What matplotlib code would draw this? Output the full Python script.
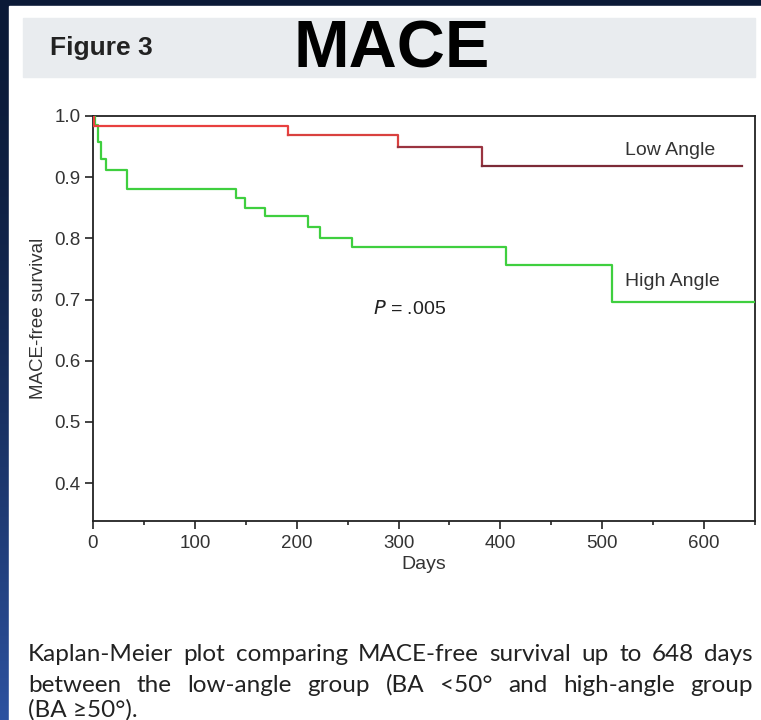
import numpy as np
import matplotlib
matplotlib.use("Agg")
import matplotlib.pyplot as plt
from matplotlib.patches import Rectangle
from matplotlib.ticker import MultipleLocator

# =========================
# DATA
# =========================
low_days = [0, 1, 191, 299, 382, 637]
low_surv = [1.0, 0.984, 0.969, 0.949, 0.918, 0.918]
low_colors = ["#e8403f", "#e8403f", "#d9413f", "#9a3440", "#7c2b37"]

high_days = [0, 2, 5, 8, 13, 33, 140, 149, 169, 211, 223, 254, 406, 510, 650]
high_surv = [1.0, 0.985, 0.957, 0.930, 0.911, 0.881, 0.866, 0.849, 0.837,
             0.818, 0.801, 0.786, 0.757, 0.696, 0.696]

x_ticks = [0, 100, 200, 300, 400, 500, 600]
y_ticks = [0.4, 0.5, 0.6, 0.7, 0.8, 0.9, 1.0]

caption_lines = [
    "Kaplan-Meier plot comparing MACE-free survival up to 648 days",
    "between the low-angle group (BA <50\u00b0 and high-angle group",
    "(BA \u226550\u00b0).",
]

W, H = 761, 720
plt.rcParams["font.family"] = ["Liberation Sans", "DejaVu Sans"]

fig = plt.figure(figsize=(W / 100, H / 100), dpi=100)

# =========================
# BACKGROUND FRAME
# =========================
bg = fig.add_axes([0, 0, 1, 1], zorder=-10)
top_c = np.array([11, 26, 55]) / 255
bot_c = np.array([45, 82, 160]) / 255
t = np.linspace(0, 1, 256) ** 1.6
grad = top_c[None, :] * (1 - t[:, None]) + bot_c[None, :] * t[:, None]
bg.imshow(grad[:, None, :], extent=[0, 1, 0, 1], aspect="auto", origin="upper")
bg.add_patch(Rectangle((9 / W, 0), 1, (H - 6) / H, color="white", zorder=2))
bg.add_patch(Rectangle((23 / W, 1 - 77 / H), (755 - 23) / W, (77 - 18) / H,
                       color="#e9ecef", zorder=3))
bg.set_xlim(0, 1)
bg.set_ylim(0, 1)
bg.axis("off")

fig.text(50 / W, 1 - 48 / H, "Figure 3", fontsize=19, fontweight="bold",
         color="#222222", va="center", ha="left")
fig.text(392 / W, 1 - 50 / H, "MACE", fontsize=48, fontweight="bold",
         color="black", va="center", ha="center")

# =========================
# KAPLAN-MEIER PLOT
# =========================
ax = fig.add_axes([93 / W, 199 / H, (755 - 93) / W, (604 - 199) / H])

ax.step(high_days, high_surv, where="post", color="#3fcf3f", lw=1.6, zorder=3)
for i in range(len(low_surv) - 1):
    ax.plot([low_days[i], low_days[i + 1], low_days[i + 1]],
            [low_surv[i], low_surv[i], low_surv[i + 1]],
            color=low_colors[i], lw=1.6, zorder=3)

ax.set_xlim(0, 650)
ax.set_ylim(0.338, 1.0)
ax.set_xticks(x_ticks)
ax.set_yticks(y_ticks)
ax.set_yticklabels([f"{v:.1f}" for v in y_ticks])
ax.xaxis.set_minor_locator(MultipleLocator(50))
ax.tick_params(axis="both", which="major", direction="out", length=6,
               width=1.2, labelsize=13.5, labelcolor="#333333", color="#222222")
ax.tick_params(axis="x", which="minor", direction="out", length=3, width=1.2,
               color="#222222")
ax.tick_params(axis="x", pad=4)
ax.tick_params(axis="y", pad=3)
for s in ax.spines.values():
    s.set_linewidth(1.3)
    s.set_color("#222222")

ax.set_xlabel("Days", fontsize=14, color="#333333", labelpad=3)
ax.set_ylabel("MACE-free survival", fontsize=13.5, color="#333333", labelpad=5)

ax.text(567, 0.943, "Low Angle", fontsize=14, color="#333333",
        ha="center", va="center")
ax.text(569, 0.730, "High Angle", fontsize=14, color="#333333",
        ha="center", va="center")
ax.text(311, 0.684, "$P$ = .005", fontsize=14, color="#222222",
        ha="center", va="center")

# =========================
# CAPTION (justified lines)
# =========================
cap_font = dict(fontsize=17.5, color="#222222", family=["Lato", "DejaVu Sans"],
                va="baseline", ha="left")
renderer = fig.canvas.get_renderer()
left_px, right_px = 28, 753
line_base = [661, 692, 717]
for k, line in enumerate(caption_lines):
    y = 1 - line_base[k] / H
    if k == len(caption_lines) - 1:
        fig.text(left_px / W, y, line, **cap_font)
        continue
    words = line.split(" ")
    objs = [fig.text(0, y, w_, **cap_font) for w_ in words]
    widths = [o.get_window_extent(renderer).width for o in objs]
    gap = (right_px - left_px - sum(widths)) / (len(words) - 1)
    x = left_px
    for o, wd in zip(objs, widths):
        o.set_x(x / W)
        x += wd + gap

fig.savefig("out.png", dpi=100)
